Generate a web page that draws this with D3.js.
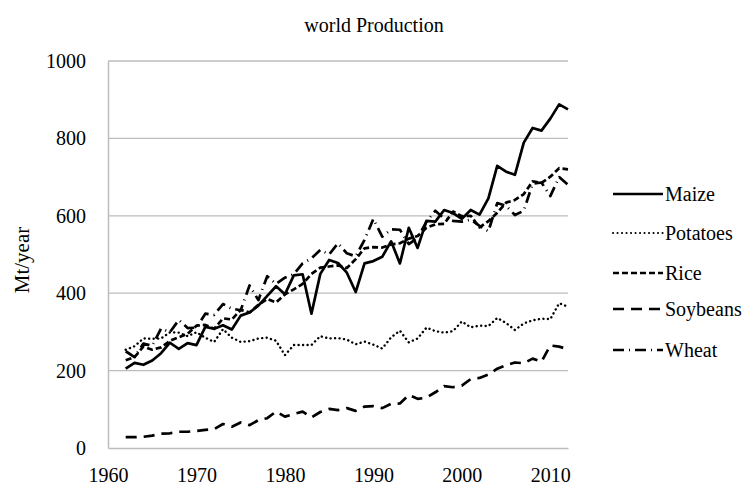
<!DOCTYPE html>
<html>
<head>
<meta charset="utf-8">
<script src="https://cdn.jsdelivr.net/npm/d3@7"></script>
<style>
  body { margin: 0; background: #fff; }
  svg text { font-family: "Liberation Serif", "Times New Roman", serif !important; }
</style>
</head>
<body>
<svg id="chart"></svg>
<script>
// years shown on the chart
const years = d3.range(1962, 2013);

// world production, Mt/year
const maize = [205, 220, 215, 226, 245, 272, 256, 271, 266, 313, 308, 317, 306, 342, 350, 368, 393, 418, 397, 446, 449, 347, 450, 486, 478, 453, 403, 477, 483, 494, 534, 477, 569, 517, 587, 585, 615, 607, 592, 615, 603, 645, 729, 714, 706, 789, 827, 820, 851, 888, 875];
const potatoes = [254, 263, 283, 282, 283, 299, 298, 289, 299, 285, 274, 307, 285, 274, 276, 283, 285, 277, 240, 266, 266, 266, 289, 283, 284, 280, 268, 275, 267, 257, 286, 303, 273, 283, 311, 302, 298, 302, 327, 312, 316, 315, 336, 323, 305, 322, 330, 334, 333, 374, 365];
const rice = [227, 235, 262, 254, 260, 277, 286, 295, 316, 318, 308, 335, 332, 357, 350, 370, 385, 376, 397, 410, 424, 450, 466, 469, 472, 465, 488, 516, 519, 518, 526, 529, 541, 548, 569, 578, 579, 611, 599, 600, 570, 586, 608, 634, 641, 656, 689, 685, 701, 723, 720];
const soybeans = [28, 28, 29, 32, 37, 38, 42, 42, 44, 47, 49, 62, 55, 66, 59, 72, 77, 94, 81, 88, 94, 79, 93, 101, 98, 103, 96, 107, 108, 103, 114, 115, 137, 127, 130, 144, 160, 157, 161, 178, 181, 190, 205, 214, 221, 219, 231, 223, 265, 262, 255];
const wheat = [250, 235, 270, 264, 309, 299, 331, 310, 311, 347, 344, 372, 360, 356, 420, 382, 444, 424, 440, 449, 477, 490, 512, 500, 529, 503, 495, 538, 592, 546, 565, 564, 527, 543, 585, 613, 593, 587, 585, 590, 574, 560, 633, 626, 602, 613, 683, 686, 651, 700, 680];

const seriesNames = ["Maize", "Potatoes", "Rice", "Soybeans", "Wheat"];
const seriesValues = [maize, potatoes, rice, soybeans, wheat];
const xTicks = [1960, 1970, 1980, 1990, 2000, 2010];
const yTicks = [0, 200, 400, 600, 800, 1000];

const W = 747, H = 488;
const dashes = {
  Maize: null,
  Potatoes: "0.1,4.4",
  Rice: "6,3",
  Soybeans: "11,7",
  Wheat: "11,5,1,5"
};

const svg = d3.select("#chart").attr("width", W).attr("height", H);

const x = d3.scaleLinear().domain([1960, 2012]).range([108, 568]);
const y = d3.scaleLinear().domain([0, 1000]).range([448, 61]);

// gridlines
svg.append("g")
  .selectAll("line")
  .data(yTicks.slice(1))
  .join("line")
  .attr("x1", x(1960)).attr("x2", x(2012))
  .attr("y1", d => y(d)).attr("y2", d => y(d))
  .attr("stroke", "#bdbdbd").attr("stroke-width", 1.3);

// axes
const yAxis = svg.append("g")
  .attr("transform", `translate(${x(1960)},0)`)
  .call(d3.axisLeft(y).tickValues(yTicks).tickFormat(d3.format("d")).tickSize(0).tickPadding(22));
const xAxis = svg.append("g")
  .attr("transform", `translate(0,${y(0)})`)
  .call(d3.axisBottom(x).tickValues(xTicks).tickFormat(d3.format("d")).tickSize(0).tickPadding(20));

[yAxis, xAxis].forEach(a => {
  a.attr("font-size", 20);
  a.select(".domain").attr("stroke", "#bdbdbd").attr("stroke-width", 1.5);
  a.selectAll("text").attr("fill", "#000");
});

// lines
const line = d3.line()
  .x((d, i) => x(years[i]))
  .y(d => y(d));

seriesNames.forEach((name, k) => {
  svg.append("path")
    .datum(seriesValues[k])
    .attr("d", line)
    .attr("fill", "none")
    .attr("stroke", "#000")
    .attr("stroke-width", name === "Potatoes" ? 2.4 : 2.7)
    .attr("stroke-linecap", name === "Potatoes" ? "round" : "butt")
    .attr("stroke-linejoin", "round")
    .attr("stroke-dasharray", dashes[name]);
});

// legend
const legendY = [194, 233, 273, 309, 350];
const legend = svg.append("g").attr("font-size", 20);
seriesNames.forEach((name, k) => {
  legend.append("line")
    .attr("x1", 613).attr("x2", 663)
    .attr("y1", legendY[k]).attr("y2", legendY[k])
    .attr("stroke", "#000")
    .attr("stroke-width", name === "Potatoes" ? 2 : 2.7)
    .attr("stroke-linecap", name === "Potatoes" ? "round" : "butt")
    .attr("stroke-dasharray", dashes[name]);
  legend.append("text")
    .attr("x", 665).attr("y", legendY[k] + 7)
    .text(name);
});

// title
svg.append("text")
  .attr("x", 374).attr("y", 32)
  .attr("text-anchor", "middle")
  .attr("font-size", 20)
  .text("world Production");

// y axis title
svg.append("text")
  .attr("transform", "translate(29,260) rotate(-90)")
  .attr("text-anchor", "middle")
  .attr("font-size", 21)
  .text("Mt/year");
</script>
</body>
</html>
